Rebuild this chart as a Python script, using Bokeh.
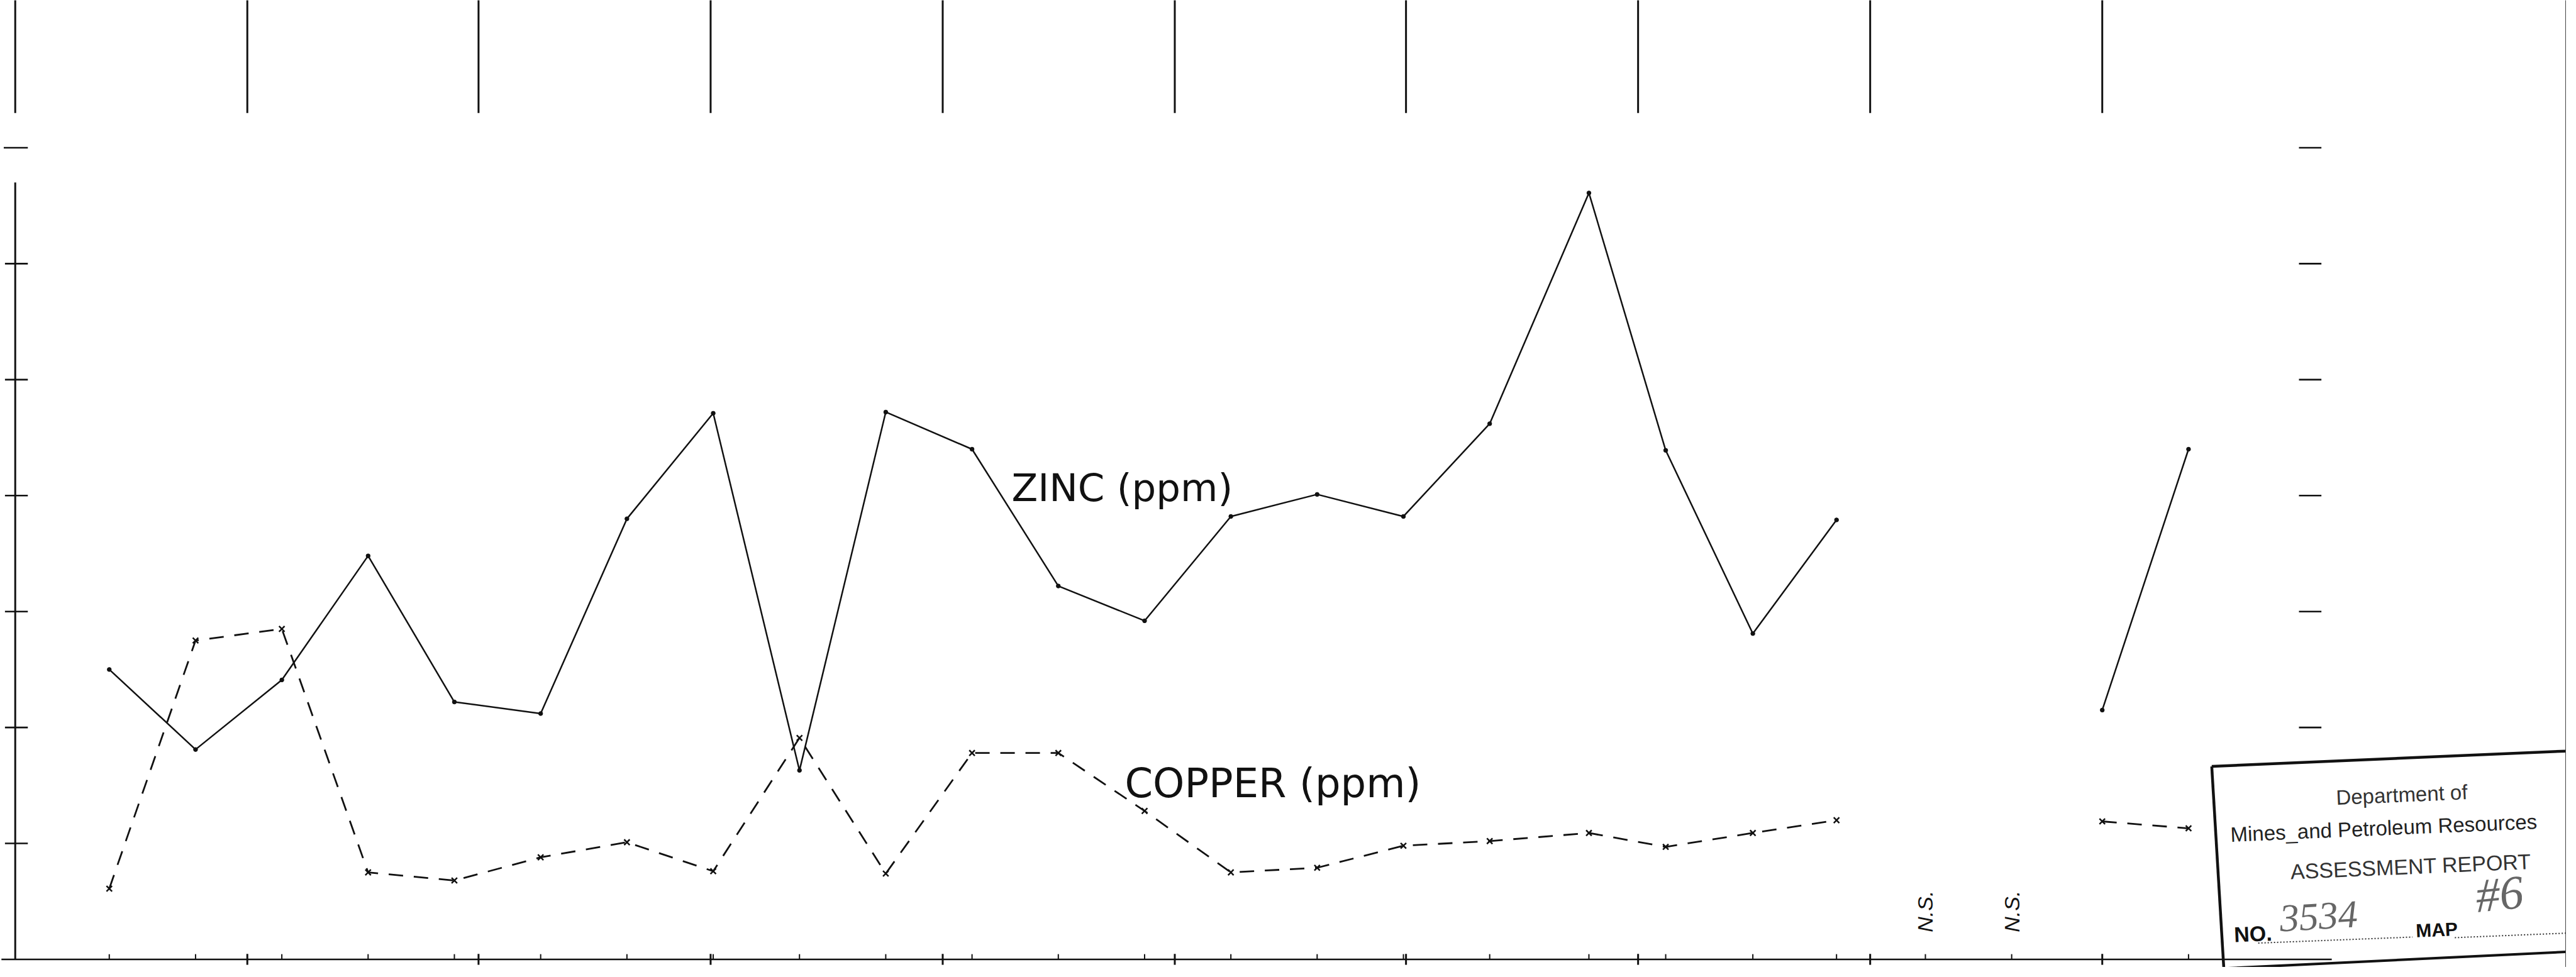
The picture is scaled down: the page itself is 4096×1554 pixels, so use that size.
import math
from bokeh.plotting import figure
from bokeh.models import Range1d
from bokeh.core.properties import value
from bokeh.embed import file_html
from bokeh.resources import INLINE

nan = float("nan")

# ---- data (station units along traverse; values in chart divisions) ----
stations = [0, 1, 2, 3, 4, 5, 6, 7, 8, 9, 10, 11, 12, 13, 14, 15, 16, 17.15, 18.04, 19.05, 20.02,
            21.05, 22.05, 23.1, 24.1]
zinc = [2.50, 1.81, 2.41, 3.48, 2.22, 2.12, 3.80, 4.71, 1.63, 4.72, 4.40, 3.22, 2.92,
        3.82, 4.01, 3.82, 4.62, 6.61, 4.39, 2.81, 3.79, nan, nan, 2.15, 4.40]
copper = [0.61, 2.75, 2.85, 0.75, 0.68, 0.88, 1.01, 0.76, 1.91, 0.74, 1.78, 1.78, 1.28,
          0.75, 0.79, 0.98, 1.02, 1.09, 0.97, 1.09, 1.20, nan, nan, 1.19, 1.13]
no_sample_stations = [21.05, 22.05]
no_sample_label = "N.S."
grid_x = [-1.09, 1.60, 4.28, 6.97, 9.66, 12.35, 15.03, 17.72, 20.41, 23.10]
left_ticks = [1, 2, 3, 4, 5, 6]
right_ticks = [2, 3, 4, 5, 6, 7]
top_tick = 7
zinc_label = "ZINC (ppm)"
copper_label = "COPPER (ppm)"

W, H = 4080, 1538
X0, X1 = -1.2629, 28.478
Y0, Y1 = -0.0681, 8.2715

p = figure(width=W, height=H, output_backend="svg", toolbar_location=None,
           x_range=Range1d(X0, X1), y_range=Range1d(Y0, Y1))
p.min_border = 0
p.axis.visible = False
p.grid.visible = False
p.outline_line_color = None
p.background_fill_color = "white"
p.border_fill_color = "white"

INK = "#111111"


def ref(rx, ry):
    """position on the original sheet (px) -> chart units"""
    return ((rx - 189) / 143.05, (1599 - ry) / 192.3)


axis_x = grid_x[0]
# left axis and ticks
p.segment(x0=[axis_x], y0=[0], x1=[axis_x], y1=[6.70], line_color=INK, line_width=3)
p.segment(x0=[-1.209] * len(left_ticks), y0=left_ticks, x1=[-0.944] * len(left_ticks),
          y1=left_ticks, line_color=INK, line_width=2.6)
p.segment(x0=[-1.223], y0=[top_tick], x1=[-0.944], y1=[top_tick], line_color=INK, line_width=2.6)
# right ticks
p.segment(x0=[25.38] * len(right_ticks), y0=right_ticks, x1=[25.64] * len(right_ticks),
          y1=right_ticks, line_color=INK, line_width=2.6)
# top long grid ticks
p.segment(x0=grid_x, y0=[7.30] * len(grid_x), x1=grid_x, y1=[8.5] * len(grid_x),
          line_color=INK, line_width=3)
# bottom axis
p.segment(x0=[-1.25], y0=[0], x1=[25.76], y1=[0], line_color=INK, line_width=2.6)
p.segment(x0=grid_x[1:], y0=[-0.047] * (len(grid_x) - 1), x1=grid_x[1:],
          y1=[0.047] * (len(grid_x) - 1), line_color=INK, line_width=3)
tick_st = stations[:23] + [stations[24]]
p.segment(x0=tick_st, y0=[0] * len(tick_st), x1=tick_st, y1=[0.045] * len(tick_st),
          line_color=INK, line_width=2)

# series
p.line(stations, zinc, line_color=INK, line_width=2.5)
p.scatter(stations, zinc, marker="circle", size=6.5, fill_color=INK, line_color=INK)
p.line(stations, copper, line_color=INK, line_width=2.8, line_dash="23 17")
p.scatter(stations, copper, marker="x", size=12.5, line_color=INK, line_width=2.5)

FONT = value("DejaVu Sans")
p.text(x=[10.458], y=[4.07], text=[zinc_label], text_font=FONT, text_font_size="61px",
       text_align="left", text_baseline="alphabetic", text_color=INK)
p.text(x=[11.77], y=[1.52], text=[copper_label], text_font=FONT, text_font_size="64px",
       text_align="left", text_baseline="alphabetic", text_color=INK)
p.text(x=no_sample_stations, y=[0.234] * len(no_sample_stations),
       text=[no_sample_label] * len(no_sample_stations), angle=math.pi / 2,
       text_font=value("Liberation Sans"), text_font_size="34px", text_align="left",
       text_baseline="middle", text_color=INK, text_font_style="italic")

# ---- assessment report stamp ----
ang = 0.043
sx, sy = zip(*[ref(3675, 1279), ref(4275, 1253)])
p.line(list(sx), list(sy), line_color=INK, line_width=4.5)
sx, sy = zip(*[ref(3675, 1279), ref(3695, 1614)])
p.line(list(sx), list(sy), line_color=INK, line_width=4.5)
sx, sy = zip(*[ref(3695, 1614), ref(4275, 1586)])
p.line(list(sx), list(sy), line_color=INK, line_width=4)
sx, sy = zip(*[ref(4262, 0), ref(4262, 1620)])
p.line(list(sx), list(sy), line_color="#444444", line_width=1.5)
sx, sy = zip(*[ref(3752, 1572), ref(4008, 1562)])
p.line(list(sx), list(sy), line_color="#333333", line_width=2, line_dash="2 3")
sx, sy = zip(*[ref(4078, 1563), ref(4275, 1555)])
p.line(list(sx), list(sy), line_color="#333333", line_width=2, line_dash="2 3")

SF = value("Liberation Sans")


def stamp_text(rx, ry, txt, size, align="center", color="#222222", style="normal",
               font=SF, angle=ang):
    x, y = ref(rx, ry)
    p.text(x=[x], y=[y], text=[txt], angle=angle, text_font=font, text_font_size=size,
           text_align=align, text_baseline="middle", text_color=color,
           text_font_style=style)


stamp_text(3990, 1326, "Department of", "33px", color="#333333")
stamp_text(3706, 1392, "Mines_and Petroleum Resources", "33px", align="left")
stamp_text(4005, 1445, "ASSESSMENT REPORT", "34px", color="#333333")
stamp_text(3712, 1558, "NO.", "34px", align="left", color="#111111", style="bold")
stamp_text(3852, 1528, "3534", "62px", color="#666666", style="italic",
           font=value("Liberation Serif"), angle=0.06)
stamp_text(4048, 1550, "MAP", "30px", color="#111111", style="bold")
stamp_text(4152, 1490, "#6", "76px", color="#666666", style="italic",
           font=value("Liberation Serif"), angle=0.1)

open("out.html", "w").write(file_html(p, INLINE))
